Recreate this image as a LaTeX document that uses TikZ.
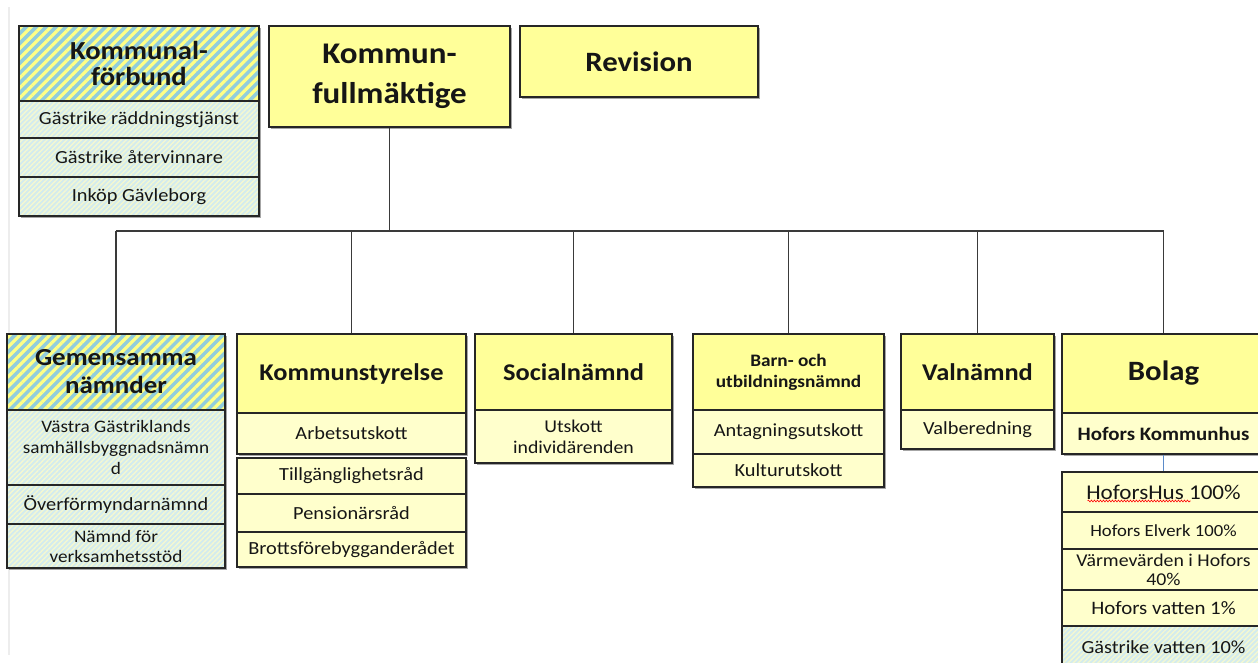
\documentclass[tikz,border=0pt]{standalone}
\usepackage{fontspec}
\setmainfont[FakeStretch=1.1]{Carlito}
\usetikzlibrary{patterns.meta,shadows,decorations.pathmorphing}
\definecolor{hdr}{HTML}{FFFF99}
\definecolor{sub}{HTML}{FFFFCC}
\definecolor{hblue}{HTML}{92CDDC}
\definecolor{hyel}{HTML}{FFFF85}
\definecolor{lblue}{HTML}{D3EBEE}
\definecolor{lyel}{HTML}{F4F8D2}
\definecolor{edge}{HTML}{262626}
\definecolor{txt}{HTML}{161616}
\definecolor{conn}{HTML}{3A3A3A}
\definecolor{lnk}{HTML}{5B8BC9}
\newcommand\fs[2]{\fontsize{#1}{#2}\selectfont}
\newcommand\mybox[7]{\node[#6, minimum width={(#4)-(#2)}, minimum height={(#5)-(#3)}] (#1) at ({((#2)+(#4))/2},{((#3)+(#5))/2}) {#7};}
\tikzset{
  base/.style={draw=edge, line width=1.3pt, inner sep=0pt, align=center, text=txt,
    drop shadow={shadow xshift=2pt, shadow yshift=-2pt, opacity=0.35, fill=black}},
  ybig/.style={base, fill=hdr},
  ysub/.style={base, fill=sub},
  hbig/.style={base, preaction={fill=hblue}, pattern={Lines[angle=45,distance=7pt,line width=3.2pt]}, pattern color=hyel},
  hsub/.style={base, preaction={fill=lblue}, pattern={Lines[angle=45,distance=3.5pt,line width=1.4pt]}, pattern color=lyel},
  hf/.style={font=\fs{24}{28}\bfseries},
  rowf/.style={font=\fs{18.5}{22}},
  connector/.style={draw=conn, line width=1.3pt},
  link/.style={draw=lnk, line width=1.5pt},
}
\begin{document}
\begin{tikzpicture}[x=1pt,y=-1pt]
\useasboundingbox (0,0) rectangle (1258,662);
\clip (0,0) rectangle (1258,662);
\draw[line width=2pt, color=black!7] (9,7) -- (9,655);
% top row
\mybox{kfh}{19}{26}{259}{101}{hbig, font=\fs{26}{26}\bfseries}{Kommunal-\\förbund}
\mybox{kf1}{19}{101}{259}{138}{hsub, rowf}{Gästrike räddningstjänst}
\mybox{kf2}{19}{138}{259}{177}{hsub, rowf}{Gästrike återvinnare}
\mybox{kf3}{19}{177}{259}{216}{hsub, rowf}{Inköp Gävleborg}
\mybox{kfm}{269}{26}{510}{127}{ybig, font=\fs{30}{40}\bfseries}{Kommun-\\fullmäktige}
\mybox{rev}{520}{26}{758}{97}{ybig, font=\fs{28}{34}\bfseries}{Revision}
% bottom row
\mybox{gnh}{7}{334}{225}{410}{hbig, font=\fs{24.5}{28}\bfseries}{Gemensamma\\nämnder}
\mybox{gn1}{7}{410}{225}{485}{hsub, font=\fs{17.5}{21}}{Västra Gästriklands\\samhällsbyggnadsnämn\\d}
\mybox{gn2}{7}{485}{225}{524}{hsub, rowf}{Överförmyndarnämnd}
\mybox{gn3}{7}{524}{225}{568}{hsub, font=\fs{17.5}{20}}{Nämnd för\\verksamhetsstöd}
\mybox{ksh}{237}{334}{466}{413}{ybig, hf}{Kommunstyrelse}
\mybox{ks1}{237}{413}{466}{454}{ysub, rowf}{Arbetsutskott}
\mybox{ks2}{237}{458}{466}{494}{ysub, rowf}{Tillgänglighetsråd}
\mybox{ks3}{237}{494}{466}{532}{ysub, rowf}{Pensionärsråd}
\mybox{ks4}{237}{532}{466}{567}{ysub, rowf}{Brottsförebygganderådet}
\mybox{snh}{475}{334}{672}{410}{ybig, hf}{Socialnämnd}
\mybox{sn1}{475}{410}{672}{463}{ysub, font=\fs{18}{21}}{Utskott\\individärenden}
\mybox{buh}{693}{334}{884}{410}{ybig, font=\fs{17.5}{21}\bfseries}{Barn- och\\utbildningsnämnd}
\mybox{bu1}{693}{410}{884}{454}{ysub, rowf}{Antagningsutskott}
\mybox{bu2}{693}{454}{884}{487}{ysub, rowf}{Kulturutskott}
\mybox{vnh}{901}{334}{1054}{410}{ybig, hf}{Valnämnd}
\mybox{vn1}{901}{410}{1054}{449}{ysub, rowf}{Valberedning}
\mybox{boh}{1062}{334}{1265}{413}{ybig, font=\fs{28}{34}\bfseries}{Bolag}
\mybox{bo1}{1062}{413}{1265}{454}{ysub, font=\fs{19}{23}\bfseries}{Hofors Kommunhus}
\mybox{h1}{1062}{472}{1265}{512}{ysub, font=\fs{21}{25}}{HoforsHus 100\%}
\mybox{h2}{1062}{512}{1265}{549}{ysub, font=\fs{17}{21}}{Hofors Elverk 100\%}
\mybox{h3}{1062}{549}{1265}{590}{ysub, font=\fs{18}{19}}{Värmevärden i Hofors\\40\%}
\mybox{h4}{1062}{590}{1265}{626}{ysub, font=\fs{19}{23}}{Hofors vatten 1\%}
\mybox{h5}{1062}{626}{1265}{668}{hsub, font=\fs{18.5}{22}}{Gästrike vatten 10\%}
% connectors
\coordinate (bus) at (0,231);
\draw[connector] (kfm.south) -- (kfm.south |- bus);
\draw[connector] (gnh.north |- bus) -- (boh.north |- bus);
\foreach \n in {gnh,ksh,snh,buh,vnh,boh} \draw[connector] (\n.north |- bus) -- (\n.north);
\draw[link] (bo1.south) -- (h1.north);
% spell-check underline
\draw[red, line width=0.6pt, decorate, decoration={snake, amplitude=0.9pt, segment length=3pt}] ([xshift=-76pt, yshift=-9pt]h1.center) -- ([xshift=27pt, yshift=-9pt]h1.center);
\end{tikzpicture}
\end{document}
